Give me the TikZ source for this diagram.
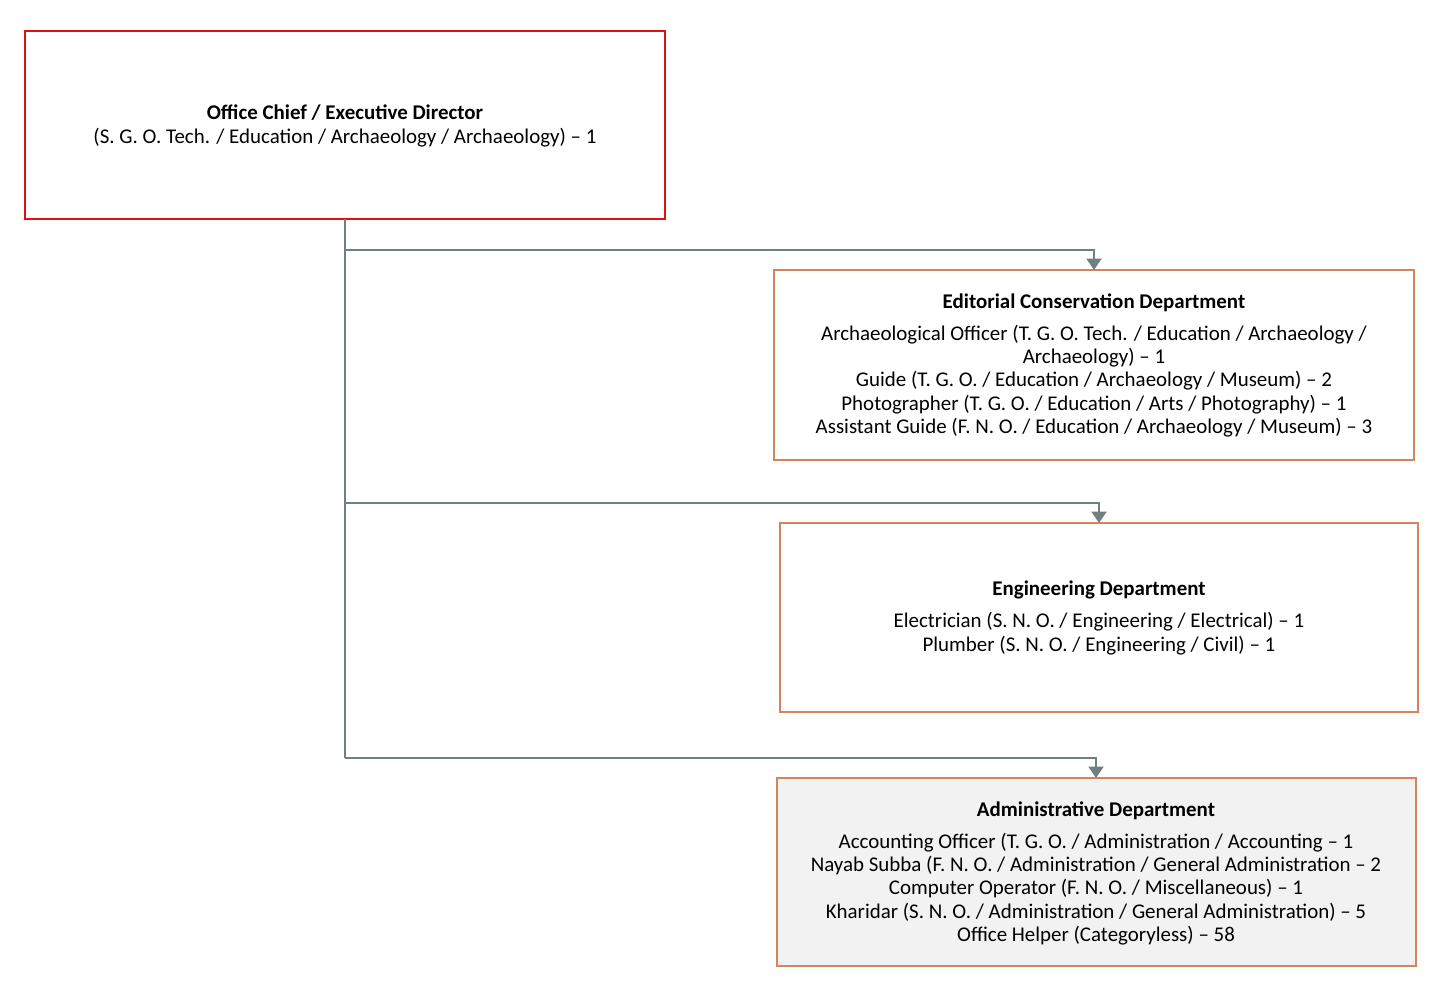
\documentclass[tikz,border=0pt]{standalone}
\usepackage{fontspec}
\setmainfont{Carlito}
\usetikzlibrary{arrows.meta}
\definecolor{chiefred}{RGB}{224,16,16}
\definecolor{deptorange}{RGB}{212,132,92}
\definecolor{linkgray}{RGB}{112,128,130}
\definecolor{adminfill}{RGB}{242,242,242}
\begin{document}
\begin{tikzpicture}[x=0.75pt,y=-0.75pt,
  every node/.style={font=\fontsize{15.7}{17.5}\selectfont, align=center, inner sep=0pt},
  chiefbox/.style={draw=chiefred, line width=2.1pt},
  deptbox/.style={draw=deptorange, line width=2pt},
  link/.style={draw=linkgray, line width=2.1pt},
  linkarrow/.style={link, -{Triangle[width=11pt,length=8.5pt]}}]
\useasboundingbox (0,0) rectangle (1446,996);
% boxes
\draw[chiefbox] (25,31) rectangle (665,219);
\coordinate (chiefbottom) at (345,219);
\node (chief) at (345,126) {\textbf{Office Chief / Executive Director}\\(S. G. O. Tech. / Education / Archaeology / Archaeology) – 1};

\draw[deptbox] (774,270) rectangle (1414,460);
\coordinate (edtop) at (1094,270);
\node (edtitle) at (1094,303) {\textbf{Editorial Conservation Department}};
\node (edbody) at (1094,381) {Archaeological Officer (T. G. O. Tech. / Education / Archaeology /\\Archaeology) – 1\\Guide (T. G. O. / Education / Archaeology / Museum) – 2\\Photographer (T. G. O. / Education / Arts / Photography) – 1\\Assistant Guide (F. N. O. / Education / Archaeology / Museum) – 3};

\draw[deptbox] (780,523) rectangle (1418,712);
\coordinate (engtop) at (1099,523);
\node (engtitle) at (1099,590) {\textbf{Engineering Department}};
\node (engbody) at (1099,633.5) {Electrician (S. N. O. / Engineering / Electrical) – 1\\Plumber (S. N. O. / Engineering / Civil) – 1};

\draw[deptbox, fill=adminfill] (777,778) rectangle (1416,966);
\coordinate (admtop) at (1096,778);
\node (admtitle) at (1096,811) {\textbf{Administrative Department}};
\node (admbody) at (1096,889) {Accounting Officer (T. G. O. / Administration / Accounting – 1\\Nayab Subba (F. N. O. / Administration / General Administration – 2\\Computer Operator (F. N. O. / Miscellaneous) – 1\\Kharidar (S. N. O. / Administration / General Administration) – 5\\Office Helper (Categoryless) – 58};

% connectors
\coordinate (trunkend) at (345,758);
\draw[link] (chiefbottom) -- (trunkend);
\draw[linkarrow] (345,250) -| (edtop);
\draw[linkarrow] (345,503) -| (engtop);
\draw[linkarrow] (trunkend) -| (admtop);
\end{tikzpicture}
\end{document}
